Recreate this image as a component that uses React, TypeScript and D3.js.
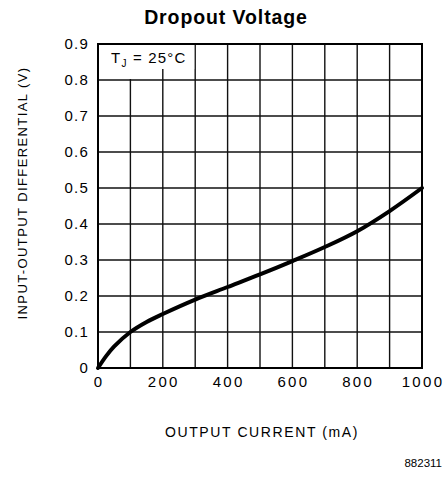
import React from "react";
import * as d3 from "d3";

const currentMA = [0, 25, 50, 100, 150, 200, 300, 400, 500, 600, 700, 800, 900, 1000];
const voltageV = [0, 0.033, 0.06, 0.1, 0.128, 0.15, 0.19, 0.225, 0.26, 0.297, 0.336, 0.38, 0.436, 0.5];
const xTicks = [0, 200, 400, 600, 800, 1000];
const yTicks = [0, 0.1, 0.2, 0.3, 0.4, 0.5, 0.6, 0.7, 0.8, 0.9];
const xGrid = [100, 200, 300, 400, 500, 600, 700, 800, 900];
const yGrid = [0.1, 0.2, 0.3, 0.4, 0.5, 0.6, 0.7, 0.8];

const W = 446;
const H = 477;
const M = { left: 98, right: 422, top: 44, bottom: 368 };

export default function App() {
  const x = d3.scaleLinear().domain([0, 1000]).range([M.left, M.right]);
  const y = d3.scaleLinear().domain([0, 0.9]).range([M.bottom, M.top]);
  const line = d3
    .line<number>()
    .x((_, i) => x(currentMA[i]))
    .y((d) => y(d))
    .curve(d3.curveCatmullRom.alpha(0.5));
  const font = "'Liberation Sans', Arial, Helvetica, sans-serif";
  const fmtY = (v: number) => (v === 0 ? "0" : d3.format(".1f")(v));
  return (
    <svg
      width={W}
      height={H}
      viewBox={`0 0 ${W} ${H}`}
      style={{ position: "absolute", left: 0, top: 0, background: "#fff" }}
      fontFamily={font}
    >
      <rect x={0} y={0} width={W} height={H} fill="#fff" />
      <text x={226} y={24} textAnchor="middle" fontSize={19.5} fontWeight="bold" fill="#000" letterSpacing={0.9}>
        Dropout Voltage
      </text>
      {/* grid */}
      {xGrid.map((v) => (
        <line key={"vx" + v} x1={x(v)} x2={x(v)} y1={y(0)} y2={y(0.9)} stroke="#111" strokeWidth={1.4} />
      ))}
      {yGrid.map((v) => (
        <line key={"hy" + v} x1={x(0)} x2={x(1000)} y1={y(v)} y2={y(v)} stroke="#111" strokeWidth={1.6} />
      ))}
      {/* label mask */}
      <rect x={x(0) + 1} y={y(0.9) + 1} width={x(300) - x(0) - 2} height={24} fill="#fff" />
      <rect x={x(100) - 2} y={y(0.9) + 1} width={4} height={y(0.8) - y(0.9) - 2} fill="#fff" />
      {/* frame */}
      <rect x={x(0)} y={y(0.9)} width={x(1000) - x(0)} height={y(0) - y(0.9)} fill="none" stroke="#000" strokeWidth={2} />
      {/* curve */}
      <path d={line(voltageV) || ""} fill="none" stroke="#000" strokeWidth={4} strokeLinecap="round" />
      {/* TJ label */}
      <text x={111} y={63} fontSize={15} fill="#000" letterSpacing={1.2}>
        T
        <tspan fontSize={10} dy={4}>J</tspan>
        <tspan dy={-4}> = 25°C</tspan>
      </text>
      {/* y tick labels */}
      {yTicks.map((v) => (
        <text key={"yt" + v} x={89} y={y(v) + 5} textAnchor="end" fontSize={15} fill="#000" letterSpacing={1.2}>
          {fmtY(v)}
        </text>
      ))}
      {/* x tick labels */}
      {xTicks.map((v) => (
        <text key={"xt" + v} x={x(v) + 1} y={387} textAnchor="middle" fontSize={15} fill="#000" letterSpacing={2.3}>
          {String(v)}
        </text>
      ))}
      <text x={262} y={437} textAnchor="middle" fontSize={14} fill="#000" letterSpacing={1.6}>
        OUTPUT CURRENT (mA)
      </text>
      <text
        transform={`translate(27, 193) rotate(-90)`}
        textAnchor="middle"
        fontSize={13}
        fill="#000"
        letterSpacing={1.4}
      >
        INPUT-OUTPUT DIFFERENTIAL (V)
      </text>
      <text x={442} y={467} textAnchor="end" fontSize={11.5} fill="#000">
        882311
      </text>
    </svg>
  );
}
